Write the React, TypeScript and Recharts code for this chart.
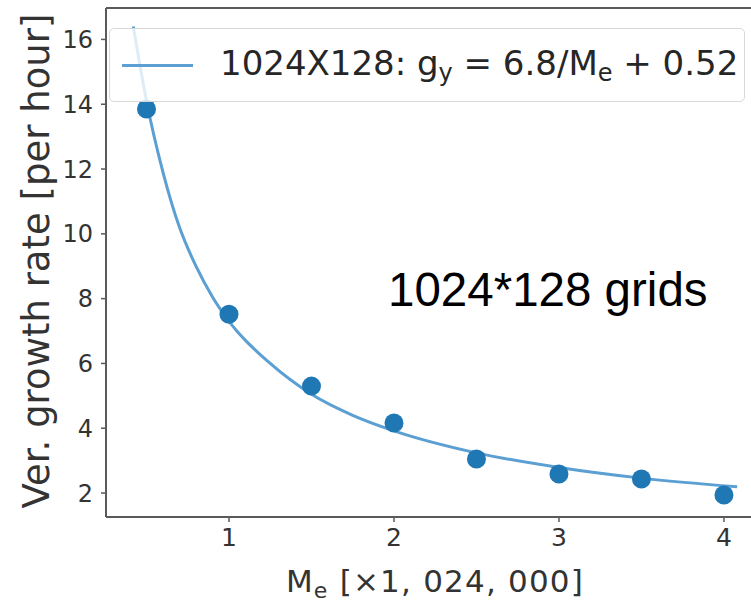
import React from "react";
import { ComposedChart, Line, Scatter, XAxis, YAxis, ReferenceLine } from "recharts";

// measured points (M_e in units of 1,024,000)
const massX = [0.5, 1, 1.5, 2, 2.5, 3, 3.5, 4];
const growthY = [13.85, 7.52, 5.3, 4.16, 3.05, 2.59, 2.43, 1.94];

// fitted curve
const fitX = [0.42, 0.5, 0.6, 0.7, 0.8, 0.9, 1.0, 1.25, 1.5, 1.75, 2.0, 2.5, 3.0, 3.5, 4.08];
const fitY = [16.4, 14.1, 11.9, 10.2, 9.0, 8.05, 7.3, 6.0, 5.05, 4.4, 3.92, 3.24, 2.79, 2.46, 2.19];

const xTicks = [1, 2, 3, 4];
const yTicks = [2, 4, 6, 8, 10, 12, 14, 16];

const points = massX.map((x, i) => ({ x, y: growthY[i] }));
const curve = fitX.map((x, i) => ({ x, y: fitY[i] }));

const BLUE = "#1f77b4";
const LINE = "#5b9fd3";
const AXIS = "#5a5a5a";
const TEXT = "#333";
const FONT = "'DejaVu Sans', sans-serif";

const Dot = (p: any) => <circle cx={p.cx} cy={p.cy} r={9.5} fill={BLUE} />;

const YLabel = () => (
  <text transform="translate(49,261) rotate(-90)" textAnchor="middle" fontSize={37} fill={TEXT} fontFamily={FONT}>
    Ver. growth rate [per hour]
  </text>
);

const XLabel = () => (
  <text x={435} y={592} textAnchor="middle" fontSize={31} letterSpacing={1.2} fill={TEXT} fontFamily={FONT}>
    M<tspan fontSize={22} dy={6}>e</tspan>
    <tspan dy={-6}> [×1, 024, 000]</tspan>
  </text>
);

export default function App() {
  return (
    <div style={{ position: "absolute", left: 0, top: 0, width: 751, height: 604, background: "#fff" }}>
      <ComposedChart width={751} height={604} margin={{ top: 8, right: 0, bottom: 0, left: 0 }}>
        <XAxis
          dataKey="x"
          type="number"
          domain={[0.2545, 4.164]}
          allowDataOverflow
          ticks={xTicks}
          height={87}
          axisLine={{ stroke: AXIS, strokeWidth: 2 }}
          tickLine={{ stroke: AXIS, strokeWidth: 1.5 }}
          tickSize={5}
          tickMargin={6}
          tick={{ fill: TEXT, fontSize: 25, fontFamily: FONT }}
          label={<XLabel />}
        />
        <YAxis
          dataKey="y"
          type="number"
          domain={[1.26, 16.97]}
          allowDataOverflow
          ticks={yTicks}
          width={106}
          axisLine={{ stroke: AXIS, strokeWidth: 2 }}
          tickLine={{ stroke: AXIS, strokeWidth: 1.5 }}
          tickSize={5}
          tickMargin={8}
          tick={{ fill: TEXT, fontSize: 24, fontFamily: FONT }}
          label={<YLabel />}
        />
        <ReferenceLine y={16.97} stroke={AXIS} strokeWidth={2} />
        <Line
          data={curve}
          dataKey="y"
          type="monotone"
          stroke={LINE}
          strokeWidth={3}
          dot={false}
          activeDot={false}
          isAnimationActive={false}
        />
        <Scatter data={points} dataKey="y" shape={Dot} isAnimationActive={false} />
      </ComposedChart>

      <div
        style={{
          position: "absolute",
          left: 109,
          top: 28,
          width: 636,
          height: 74,
          boxSizing: "border-box",
          border: "1.5px solid #d8d8d8",
          borderRadius: 5,
          background: "rgba(255,255,255,0.8)",
          display: "flex",
          alignItems: "center",
          fontFamily: FONT,
          fontSize: 34,
          color: "#262626",
          whiteSpace: "nowrap",
        }}
      >
        <div style={{ marginLeft: 12, width: 71, height: 3, background: LINE }} />
        <div style={{ marginLeft: 27 }}>
          1024X128: g<sub style={{ fontSize: 24, verticalAlign: -6 }}>y</sub> = 6.8/M
          <sub style={{ fontSize: 24, verticalAlign: -6 }}>e</sub> + 0.52
        </div>
      </div>

      <div
        style={{
          position: "absolute",
          left: 388,
          top: 266,
          fontFamily: "'Liberation Sans', Arial, sans-serif",
          fontSize: 47.5,
          lineHeight: 1,
          color: "#000",
          whiteSpace: "nowrap",
        }}
      >
        1024*128 grids
      </div>
    </div>
  );
}
